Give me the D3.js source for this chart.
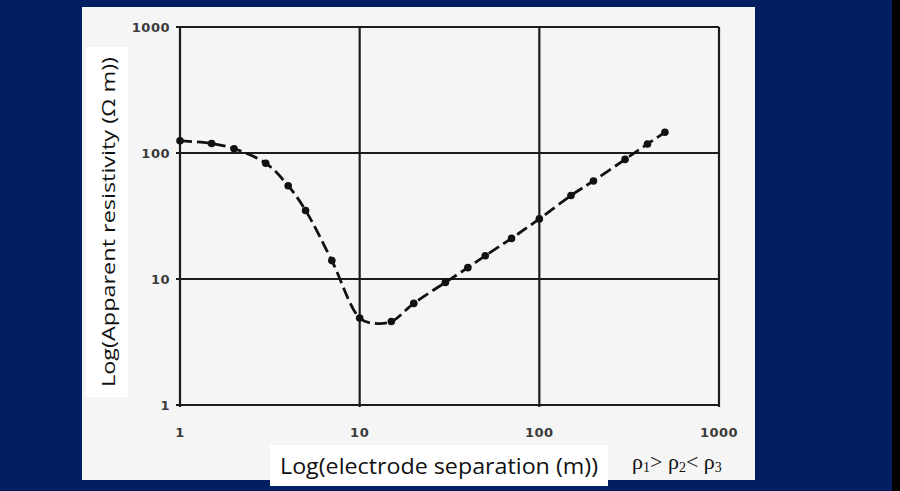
<!DOCTYPE html>
<html><head><meta charset="utf-8">
<script src="https://cdn.jsdelivr.net/npm/d3@7"></script>
<style>html,body{margin:0;padding:0;background:#022061;}svg{display:block;}</style>
</head><body>
<svg id="c" width="900" height="491"></svg>
<script>
// Data
const separation = [1, 1.5, 2, 3, 4, 5, 7, 10, 15, 20, 30, 40, 50, 70, 100, 150, 200, 300, 400, 500];
const resistivity = [125, 119, 108, 83, 55, 35, 14, 4.9, 4.6, 6.4, 9.4, 12.3, 15.3, 21, 30, 46, 60, 89, 118, 146];
// smooth curve through the minimum (shape of the drawn curve between the dots)
const curveX = [1, 1.5, 2, 3, 4, 5, 7, 10, 12, 15, 20, 30, 40, 50, 70, 100, 150, 200, 300, 400, 500];
const curveY = [125, 119, 108, 83, 55, 35, 14, 4.9, 4.45, 4.6, 6.4, 9.4, 12.3, 15.3, 21, 30, 46, 60, 89, 118, 146];
const xTicks = [1, 10, 100, 1000];
const yTicks = [1, 10, 100, 1000];
const xTickLabels = ["1", "10", "100", "1000"];
const yTickLabels = ["1", "10", "100", "1000"];
const yTitle = "Log(Apparent resistivity (\u03A9 m))";
const xTitle = "Log(electrode separation (m))";

const svg = d3.select("#c");
svg.append("rect").attr("x",0).attr("y",0).attr("width",900).attr("height",491).attr("fill","#022061");
svg.append("rect").attr("x",892).attr("y",0).attr("width",8).attr("height",491).attr("fill","#000");
svg.append("rect").attr("x",82).attr("y",7).attr("width",673).attr("height",473).attr("fill","#f5f5f5");

const x = d3.scaleLog().domain([1,1000]).range([180,719]);
const y = d3.scaleLog().domain([1,1000]).range([405,27]);

const ink = "#1c1c1c";
const g = svg.append("g");
// grid lines (vertical)
g.selectAll("line.vx").data(xTicks).join("line")
  .attr("x1",d=>x(d)).attr("x2",d=>x(d)).attr("y1",y(1000)).attr("y2",y(1)+2)
  .attr("stroke",ink).attr("stroke-width",2.2);
// grid lines (horizontal)
g.selectAll("line.hy").data(yTicks).join("line")
  .attr("x1",x(1)-4).attr("x2",x(1000)).attr("y1",d=>y(d)).attr("y2",d=>y(d))
  .attr("stroke",ink).attr("stroke-width",2.2);

// tick labels
g.selectAll("text.xt").data(xTicks).join("text")
  .attr("x",d=>x(d)).attr("y",437).attr("text-anchor","middle")
  .attr("font-family","DejaVu Sans").attr("font-weight","bold").attr("font-size",13)
  .attr("letter-spacing",0.5).attr("fill","#3a3a3a").text((d,i)=>xTickLabels[i]);
g.selectAll("text.yt").data(yTicks).join("text")
  .attr("x",x(1)-10).attr("y",d=>y(d)+5).attr("text-anchor","end")
  .attr("font-family","DejaVu Sans").attr("font-weight","bold").attr("font-size",13)
  .attr("letter-spacing",0.5).attr("fill","#3a3a3a").text((d,i)=>yTickLabels[i]);

// curve
const line = d3.line().x((d,i)=>x(curveX[i])).y((d,i)=>y(curveY[i])).curve(d3.curveCatmullRom.alpha(0.5));
g.append("path").attr("d",line(curveX)).attr("fill","none").attr("stroke","#111")
  .attr("stroke-width",2.8).attr("stroke-dasharray","12,5");
g.selectAll("circle").data(separation).join("circle")
  .attr("cx",d=>x(d)).attr("cy",(d,i)=>y(resistivity[i])).attr("r",3.8).attr("fill","#111");

// y title
svg.append("rect").attr("x",86).attr("y",47).attr("width",42).attr("height",350).attr("fill","#fff");
svg.append("text").attr("transform","translate(115,222) rotate(-90)").attr("text-anchor","middle")
  .attr("font-family","Open Sans").attr("font-size",19).attr("fill","#111")
  .attr("textLength",330).attr("lengthAdjust","spacingAndGlyphs").text(yTitle);

// x title
svg.append("rect").attr("x",270).attr("y",445).attr("width",338).attr("height",41).attr("fill","#fff");
svg.append("text").attr("x",280).attr("y",474)
  .attr("font-family","Open Sans").attr("font-size",21).attr("fill","#111")
  .attr("textLength",318).attr("lengthAdjust","spacingAndGlyphs").text(xTitle);

// rho relation
const rt = svg.append("text").attr("x",632).attr("y",469).attr("font-family","Liberation Serif").attr("font-size",22).attr("fill","#111");
rt.append("tspan").text("\u03C1");
rt.append("tspan").attr("font-size",14).attr("dy",3).text("1");
rt.append("tspan").attr("dy",-3).text("> \u03C1");
rt.append("tspan").attr("font-size",14).attr("dy",3).text("2");
rt.append("tspan").attr("dy",-3).text("< \u03C1");
rt.append("tspan").attr("font-size",14).attr("dy",3).text("3");
</script>
</body></html>
